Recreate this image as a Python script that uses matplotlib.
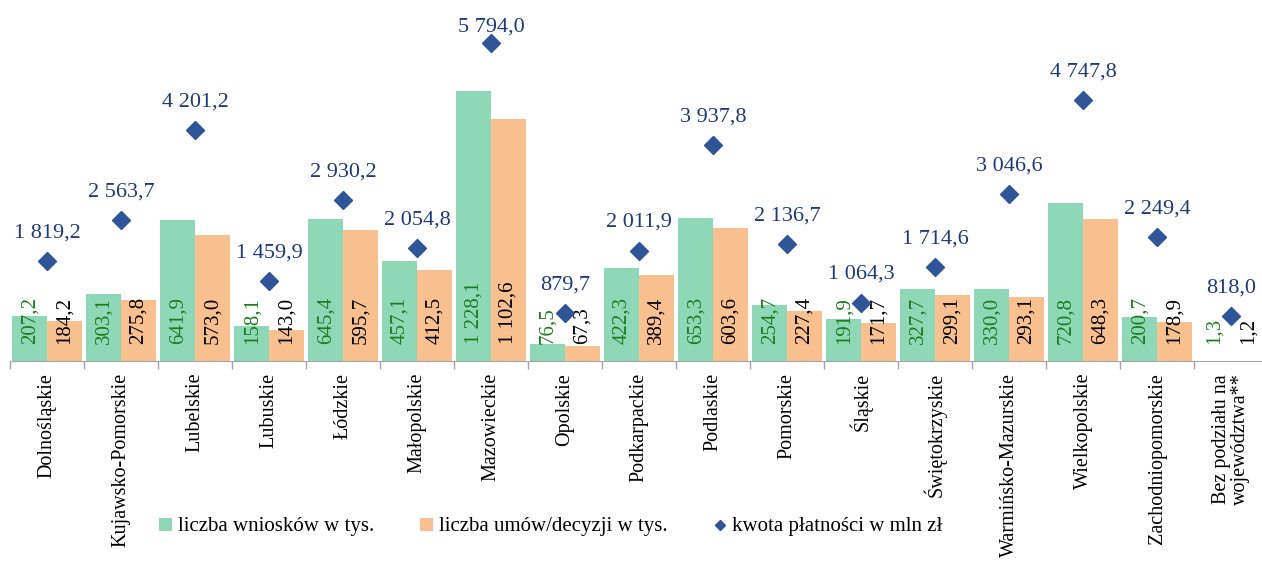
import matplotlib

matplotlib.use("Agg")
import matplotlib.pyplot as plt
import numpy as np
from matplotlib.lines import Line2D
from matplotlib.patches import Patch

regions = [
    "Dolnośląskie", "Kujawsko-Pomorskie", "Lubelskie", "Lubuskie", "Łódzkie",
    "Małopolskie", "Mazowieckie", "Opolskie", "Podkarpackie", "Podlaskie",
    "Pomorskie", "Śląskie", "Świętokrzyskie", "Warmińsko-Mazurskie",
    "Wielkopolskie", "Zachodniopomorskie", "Bez podziału na\nwojewództwa**",
]
wnioski = [207.2, 303.1, 641.9, 158.1, 645.4, 457.1, 1228.1, 76.5, 422.3,
           653.3, 254.7, 191.9, 327.7, 330.0, 720.8, 200.7, 1.3]
umowy = [184.2, 275.8, 573.0, 143.0, 595.7, 412.5, 1102.6, 67.3, 389.4,
         603.6, 227.4, 171.7, 299.1, 293.1, 648.3, 178.9, 1.2]
kwota = [1819.2, 2563.7, 4201.2, 1459.9, 2930.2, 2054.8, 5794.0, 879.7, 2011.9,
         3937.8, 2136.7, 1064.3, 1714.6, 3046.6, 4747.8, 2249.4, 818.0]

GREEN = "#8ED8B7"
ORANGE = "#F8C08F"
NAVY = "#2F5597"
NAVY_TEXT = "#1F3A78"
GREEN_TEXT = "#1E7B1E"

plt.rcParams["font.family"] = ["Liberation Serif", "DejaVu Serif"]


def pl(v):
    # polish number format: "1 228,1"
    return f"{v:,.1f}".replace(",", " ").replace(".", ",")


dpi = 100
fig = plt.figure(figsize=(12.62, 5.66), dpi=dpi)
ax = fig.add_axes([10 / 1262, 205 / 566, 1258 / 1262, 361 / 566])
ax2 = ax.twinx()

x = np.arange(len(regions))
w = 0.467
ax.bar(x - w / 2, wnioski, w, color=GREEN, zorder=2)
ax.bar(x + w / 2, umowy, w, color=ORANGE, zorder=2)
ax.set_xlim(-0.5, len(regions) - 0.5)
ax.set_ylim(0, 1644)
ax2.set_ylim(0, 6575)

for i in x:
    ax.annotate(pl(wnioski[i]), (i - w / 2, 0), xytext=(0, 12), textcoords="offset points",
                rotation=90, ha="center", va="bottom", fontsize=15, color=GREEN_TEXT, zorder=3)
    ax.annotate(pl(umowy[i]), (i + w / 2, 0), xytext=(0, 12), textcoords="offset points",
                rotation=90, ha="center", va="bottom", fontsize=15, color="black", zorder=3)

ax2.plot(x, kwota, linestyle="none", marker="D", markersize=9, color=NAVY, zorder=4)
fig_top = fig.bbox.height
for i in x:
    y_px = ax2.transData.transform((i, kwota[i]))[1]
    off = min(17, (fig_top - y_px) * 72 / dpi - 23)
    ax2.annotate(pl(kwota[i]), (i, kwota[i]), xytext=(0, off), textcoords="offset points",
                 ha="center", va="baseline", fontsize=16, color=NAVY_TEXT)

ax.set_xticks(x)
ax.set_xticklabels(regions, rotation=90, ha="center", va="top", fontsize=14.5,
                   multialignment="center", linespacing=1.0)
ax.set_xticks(np.arange(-0.5, len(regions), 1), minor=True)
ax.tick_params(axis="x", which="major", length=0, pad=8.5)
ax.tick_params(axis="x", which="minor", length=6, color="#A6A6A6", width=1)
ax.set_yticks([])
ax2.set_yticks([])
for a in (ax, ax2):
    for side in ("top", "left", "right"):
        a.spines[side].set_visible(False)
ax2.spines["bottom"].set_visible(False)
ax.spines["bottom"].set_color("#A6A6A6")

handles = [
    Patch(facecolor=GREEN, edgecolor="none"),
    Patch(facecolor=ORANGE, edgecolor="none"),
    Line2D([], [], linestyle="none", marker="D", markersize=5.5, color=NAVY),
]
labels = ["liczba wniosków w tys.", "liczba umów/decyzji w tys.", "kwota płatności w mln zł"]
fig.legend(handles, labels, loc="center", bbox_to_anchor=(551 / 1262, 1 - 527 / 566),
           ncol=3, frameon=False, fontsize=15, handlelength=0.6, handleheight=0.6,
           handletextpad=0.3, columnspacing=2.2)

fig.savefig("out.png", dpi=dpi)
plt.close(fig)
